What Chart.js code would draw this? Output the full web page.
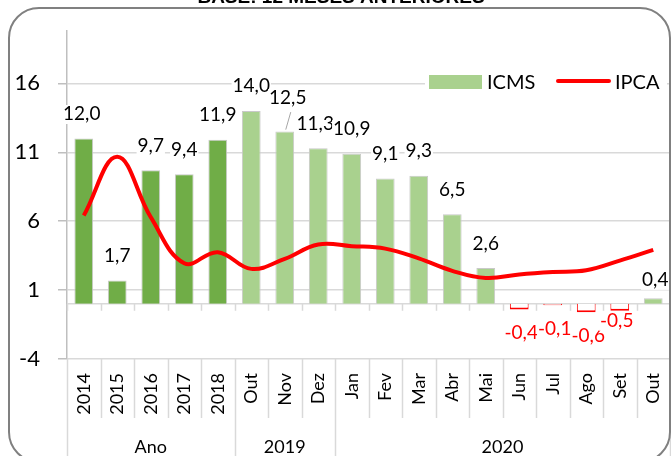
<!DOCTYPE html>
<html>
<head>
<meta charset="utf-8">
<script src="https://cdn.jsdelivr.net/npm/chart.js@4.4.1/dist/chart.umd.min.js"></script>
<style>
  html, body { margin: 0; padding: 0; background: #fff; }
  #wrap { width: 671px; height: 456px; position: relative; }
</style>
</head>
<body>
<div id="wrap"><canvas id="icmsChart" width="671" height="456"></canvas></div>
<script>
// dados
const categories = ['2014', '2015', '2016', '2017', '2018', 'Out', 'Nov', 'Dez', 'Jan', 'Fev', 'Mar', 'Abr', 'Mai', 'Jun', 'Jul', 'Ago', 'Set', 'Out'];
const groupLabels = ['Ano', '2019', '2020'];
const groupSizes = [5, 3, 10];
const icms = [12.0, 1.7, 9.7, 9.4, 11.9, 14.0, 12.5, 11.3, 10.9, 9.1, 9.3, 6.5, 2.6, -0.4, -0.1, -0.6, -0.5, 0.4];
const ipca = [6.41, 10.67, 6.29, 2.95, 3.75, 2.54, 3.27, 4.31, 4.19, 4.01, 3.30, 2.40, 1.88, 2.13, 2.31, 2.44, 3.14, 3.92];
const yTicks = [-4, 1, 6, 11, 16];

// ajustes de posicao dos rotulos (como o Excel deixou)
const labelTweaks = {
  0: { dx: -2, dy: 0 },
  6: { dx: 3, dy: -9, leader: true },
  7: { dx: -3, dy: 0 },
  13: { dx: 2, dy: 0 },
  14: { dx: 2, dy: 0 },
  15: { dx: 2, dy: 0 },
  16: { dx: -3, dy: -14 },
  17: { dx: 2, dy: 6 }
};

const DARK = '#70AD47';
const LIGHT = '#A9D18E';
const RED = '#FF0000';
const GRID = '#D9D9D9';

const barColors = icms.map((v, i) => v < 0 ? '#FFFFFF' : (i < groupSizes[0] ? DARK : LIGHT));
const barBorders = icms.map(v => v < 0 ? RED : '#C9C9C9');
const barBorderWidths = icms.map(v => v < 0 ? { top: 2, bottom: 2, left: 1, right: 1 } : 1);

const fmt = v => v.toFixed(1).replace('.', ',');

const excelDecor = {
  id: 'excelDecor',
  beforeDatasetsDraw(chart) {
    const { ctx, chartArea: area, scales: { y } } = chart;
    const n = categories.length;
    const cw = (area.right - area.left) / n;
    const zy = y.getPixelForValue(0);
    ctx.save();
    ctx.strokeStyle = GRID;
    ctx.lineWidth = 1.5;
    ctx.beginPath();
    ctx.moveTo(area.left, zy);
    ctx.lineTo(area.right, zy);
    for (let i = 0; i <= n; i++) {
      const bx = Math.round(area.left + i * cw) + 0.5;
      ctx.moveTo(bx, zy);
      ctx.lineTo(bx, zy + 7);
    }
    ctx.stroke();
    ctx.restore();
  },
  afterDraw(chart) {
    const { ctx, chartArea: area } = chart;
    const n = categories.length;
    const cw = (area.right - area.left) / n;
    ctx.save();

    // separadores do eixo de categorias
    const bounds = [0];
    groupSizes.reduce((acc, s) => { bounds.push(acc + s); return acc + s; }, 0);
    ctx.strokeStyle = GRID;
    ctx.lineWidth = 1.5;
    ctx.beginPath();
    for (let i = 0; i <= n; i++) {
      const bx = Math.round(area.left + i * cw) + 0.5;
      ctx.moveTo(bx, area.bottom);
      ctx.lineTo(bx, bounds.includes(i) ? 456 : 418);
    }
    ctx.stroke();

    // rotulos de grupo
    ctx.fillStyle = '#000';
    ctx.font = '18px Lato';
    ctx.textAlign = 'center';
    ctx.textBaseline = 'alphabetic';
    groupLabels.forEach((g, k) => {
      const cx = area.left + (bounds[k] + bounds[k + 1]) / 2 * cw;
      ctx.fillText(g, cx, 453);
    });

    // rotulos de dados
    const meta = chart.getDatasetMeta(1);
    ctx.font = '19px Lato';
    meta.data.forEach((bar, i) => {
      const v = icms[i];
      const t = labelTweaks[i] || { dx: 0, dy: 0 };
      const txt = fmt(v);
      const cx = bar.x + t.dx;
      const base = (v >= 0 ? bar.y - 18.5 : bar.y + 30) + t.dy;
      const w = ctx.measureText(txt).width;
      ctx.fillStyle = '#fff';
      ctx.fillRect(cx - w / 2 - 1, base - 15, w + 2, 19);
      if (t.leader) {
        ctx.strokeStyle = '#A6A6A6';
        ctx.lineWidth = 1;
        ctx.beginPath();
        ctx.moveTo(bar.x + 1, bar.y - 2);
        ctx.lineTo(bar.x + 6, base + 8);
        ctx.stroke();
      }
      ctx.fillStyle = v < 0 ? RED : '#000';
      ctx.fillText(txt, cx, base);
    });

    // legenda
    ctx.fillStyle = '#fff';
    ctx.fillRect(425, 70, 242, 22);
    ctx.fillStyle = LIGHT;
    ctx.fillRect(429, 75, 53, 14);
    ctx.fillStyle = '#000';
    ctx.font = '20px Lato';
    ctx.textAlign = 'left';
    ctx.fillText('ICMS', 487, 89);
    ctx.strokeStyle = RED;
    ctx.lineWidth = 4;
    ctx.lineCap = 'round';
    ctx.beginPath();
    ctx.moveTo(558, 81);
    ctx.lineTo(609, 81);
    ctx.stroke();
    ctx.fillText('IPCA', 615, 89);

    // titulo cortado no topo
    ctx.font = 'bold 19px "Liberation Sans"';
    ctx.textAlign = 'center';
    ctx.fillText('BASE: 12 MESES ANTERIORES', 341, 3);

    // moldura arredondada
    ctx.strokeStyle = '#808080';
    ctx.lineWidth = 2;
    ctx.lineCap = 'butt';
    ctx.beginPath();
    ctx.roundRect(9, 8, 661, 454, 30);
    ctx.stroke();

    ctx.restore();
  }
};

new Chart(document.getElementById('icmsChart'), {
  data: {
    labels: categories,
    datasets: [
      {
        type: 'line',
        label: 'IPCA',
        data: ipca,
        borderColor: RED,
        borderWidth: 4,
        pointRadius: 0,
        tension: 0.4,
        fill: false,
        order: 0
      },
      {
        type: 'bar',
        label: 'ICMS',
        data: icms,
        backgroundColor: barColors,
        borderColor: barBorders,
        borderWidth: barBorderWidths,
        barPercentage: 0.56,
        categoryPercentage: 1,
        order: 1
      }
    ]
  },
  options: {
    responsive: false,
    animation: false,
    devicePixelRatio: 1,
    layout: { padding: { top: 31, right: 1, bottom: 0, left: 0 } },
    plugins: {
      legend: { display: false },
      tooltip: { enabled: false }
    },
    scales: {
      x: {
        grid: { display: false, drawTicks: false },
        border: { display: false },
        ticks: {
          autoSkip: false,
          minRotation: 90,
          maxRotation: 90,
          padding: 14,
          color: '#000',
          font: { family: 'Lato', size: 18 }
        },
        afterFit: s => { s.height = 97; s.paddingLeft = 0; s.paddingRight = 0; }
      },
      y: {
        min: -4,
        max: 19.8,
        afterBuildTicks: s => { s.ticks = yTicks.map(v => ({ value: v })); },
        afterFit: s => { s.width = 67; s.paddingTop = 0; s.paddingBottom = 0; },
        grid: { color: GRID, lineWidth: 1.5, tickLength: 9, tickColor: '#BFBFBF' },
        border: { display: true, color: '#BFBFBF', width: 1.5 },
        ticks: {
          padding: 18,
          color: '#000',
          font: { family: 'Lato', size: 22 },
          callback: v => v
        }
      }
    }
  },
  plugins: [excelDecor]
});
</script>
</body>
</html>
